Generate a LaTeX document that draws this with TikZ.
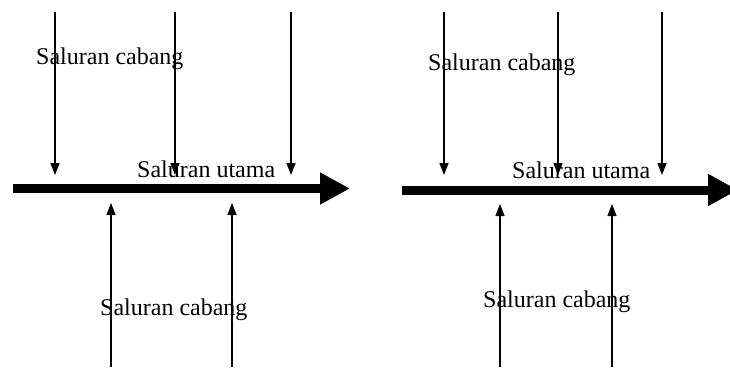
\documentclass[tikz,border=0pt]{standalone}
\usepackage{fontspec}
\setmainfont{Liberation Serif}
\usetikzlibrary{arrows.meta}
\begin{document}
\begin{tikzpicture}[x=1pt,y=-1pt,
  mainflow/.style={line width=9pt,-{Triangle[length=30pt 0,width=30pt 0]}},
  branch/.style={line width=1.4pt,-{Triangle[length=12pt 0,width=9pt 0]}},
  lbl/.style={anchor=base west,inner sep=0pt,font=\fontsize{24}{28}\selectfont}]
\useasboundingbox (0,0) rectangle (730,367);
\clip (0,0) rectangle (730,367);
\fill[white] (0,0) rectangle (730,367);
% ---------- left diagram ----------
\coordinate (La) at (13,188.5);
\coordinate (Lb) at (350,188.5);
\draw[mainflow] (La) -- (Lb);
\coordinate (L1s) at (55,12);  \coordinate (L1e) at (55,175);
\coordinate (L2s) at (175,12); \coordinate (L2e) at (175,175);
\coordinate (L3s) at (291,12); \coordinate (L3e) at (291,175);
\draw[branch] (L1s) -- (L1e);
\draw[branch] (L2s) -- (L2e);
\draw[branch] (L3s) -- (L3e);
\coordinate (L4s) at (111,367); \coordinate (L4e) at (111,203);
\coordinate (L5s) at (232,367); \coordinate (L5e) at (232,203);
\draw[branch] (L4s) -- (L4e);
\draw[branch] (L5s) -- (L5e);
\node[lbl] (Ltop) at (36,64) {Saluran cabang};
\node[lbl] (Lmid) at (137,177) {Saluran utama};
\node[lbl] (Lbot) at (100,315) {Saluran cabang};
% ---------- right diagram ----------
\coordinate (Ra) at (402,190);
\coordinate (Rb) at (738,190);
\draw[mainflow] (Ra) -- (Rb);
\coordinate (R1s) at (444,12);  \coordinate (R1e) at (444,175);
\coordinate (R2s) at (558,12);  \coordinate (R2e) at (558,175);
\coordinate (R3s) at (662,12);  \coordinate (R3e) at (662,175);
\draw[branch] (R1s) -- (R1e);
\draw[branch] (R2s) -- (R2e);
\draw[branch] (R3s) -- (R3e);
\coordinate (R4s) at (500,367); \coordinate (R4e) at (500,204);
\coordinate (R5s) at (612,367); \coordinate (R5e) at (612,204);
\draw[branch] (R4s) -- (R4e);
\draw[branch] (R5s) -- (R5e);
\node[lbl] (Rtop) at (428,70) {Saluran cabang};
\node[lbl] (Rmid) at (512,178) {Saluran utama};
\node[lbl] (Rbot) at (483,307) {Saluran cabang};
\end{tikzpicture}
\end{document}
